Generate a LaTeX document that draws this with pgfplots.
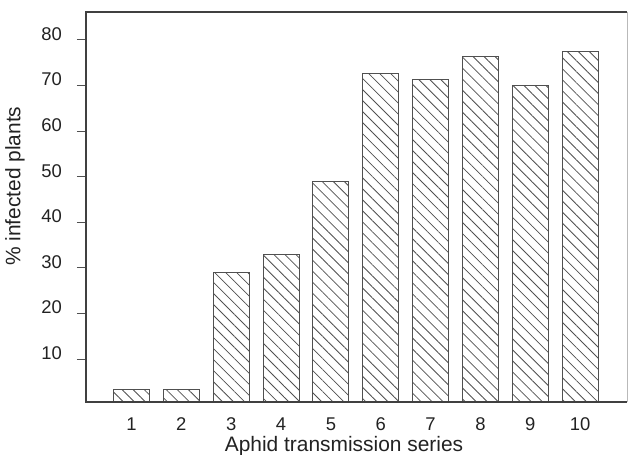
\documentclass[border=0pt]{standalone}
\usepackage{fontspec}
\setmainfont{Liberation Sans}
\usepackage{pgfplots}
\pgfplotsset{compat=1.18}
\usetikzlibrary{patterns.meta,calc}

\definecolor{ink}{HTML}{222222}
\definecolor{barline}{HTML}{505050}

\begin{document}
\begin{tikzpicture}
\begin{axis}[
    scale only axis,
    width=541bp, height=390bp,
    xmin=0.087, xmax=10.94,
    ymin=0.56, ymax=86.1,
    axis line style={draw=none},
    ytick={10,20,30,40,50,60,70,80},
    xtick={1,...,10},
    tick style={draw=barline, line width=0.8bp},
    major tick length=9bp,
    x tick style={draw=none},
    tick align=outside,
    ytick pos=left, xtick pos=bottom,
    /pgf/number format/assume math mode=true,
    ticklabel style={font=\fontsize{18.5}{22}\selectfont, text=ink, inner sep=0pt},
    yticklabel style={anchor=base east, xshift=-15bp, yshift=-0.5bp},
    xticklabel style={anchor=base, yshift=-19bp},
    xlabel={Aphid transmission series},
    ylabel={\% infected plants},
    label style={font=\fontsize{21}{25}\selectfont, text=ink, inner sep=0pt},
    xlabel style={at={(rel axis cs:0.477,-0.128)}, anchor=base},
    ylabel style={at={(rel axis cs:-0.1312,0.553)}, anchor=center},
    ybar, bar width=0.72,
    clip=false,
]
\addplot[draw=barline, line width=1bp,
    pattern={Lines[angle=-45, distance=7.8bp, line width=0.8bp]},
    pattern color=barline]
    coordinates {
    (1,3.4)(2,3.4)(3,29.0)(4,33.0)(5,48.9)
    (6,72.5)(7,71.4)(8,76.3)(9,69.9)(10,77.5)
    };
\coordinate (bl) at (rel axis cs:0,0);
\coordinate (br) at (rel axis cs:1,0);
\coordinate (tl) at (rel axis cs:0,1);
\coordinate (tr) at (rel axis cs:1,1);
\end{axis}
\draw[line width=1.3bp, draw=barline!80!black] (br) -- (bl) -- (tl) -- (tr);
\draw[line width=0.8bp, draw=gray!55] (tr) -- (br);
\pgfresetboundingbox
\path ($(bl)+(-86bp,-53bp)$) rectangle ($(tr)+(1bp,12bp)$);
\end{tikzpicture}
\end{document}
